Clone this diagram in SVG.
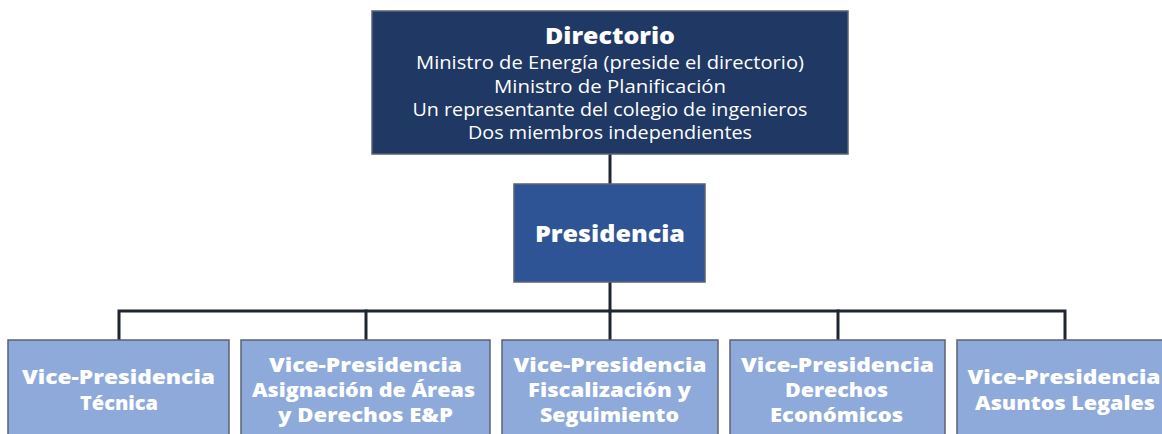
<svg xmlns="http://www.w3.org/2000/svg" width="1162" height="434" viewBox="0 0 1162 434">
<style>
.box{stroke:#5b6372;stroke-width:1.5}
.dir{fill:#203864}
.pres{fill:#2e5496}
.vp{fill:#8eaadb}
.conn{stroke:#1f2631;stroke-width:3;fill:none;stroke-linecap:square}
.t{font-family:"Open Sans","Liberation Sans",sans-serif;fill:#ffffff;text-anchor:middle}
.title{font-weight:800;font-size:22px}
.body{font-weight:400;font-size:17.5px}
.vpt{font-weight:800;font-size:20px}
</style>
<rect width="1162" height="434" fill="#ffffff"/>
<g id="connectors">
<line class="conn" x1="610" y1="154" x2="610" y2="184"/>
<line class="conn" x1="610" y1="282" x2="610" y2="311"/>
<polyline class="conn" points="119,340 119,311 1065,311 1065,340"/>
<line class="conn" x1="366" y1="311" x2="366" y2="340"/>
<line class="conn" x1="610" y1="311" x2="610" y2="340"/>
<line class="conn" x1="838" y1="311" x2="838" y2="340"/>
</g>
<g id="directorio">
<rect class="box dir" x="372" y="11" width="476" height="143"/>
<text class="t title" x="610" y="44" textLength="130" lengthAdjust="spacingAndGlyphs">Directorio</text>
<text class="t body" x="610" y="69" textLength="388" lengthAdjust="spacingAndGlyphs">Ministro de Energía (preside el directorio)</text>
<text class="t body" x="610" y="93" textLength="232" lengthAdjust="spacingAndGlyphs">Ministro de Planificación</text>
<text class="t body" x="610" y="116" textLength="395" lengthAdjust="spacingAndGlyphs">Un representante del colegio de ingenieros</text>
<text class="t body" x="610" y="139" textLength="284" lengthAdjust="spacingAndGlyphs">Dos miembros independientes</text>
</g>
<g id="presidencia">
<rect class="box pres" x="514" y="184" width="191" height="98"/>
<text class="t title" x="610" y="242" textLength="150" lengthAdjust="spacingAndGlyphs">Presidencia</text>
</g>
<g id="vp-tecnica">
<rect class="box vp" x="8" y="340" width="221" height="100"/>
<text class="t vpt" x="118.5" y="384" textLength="193" lengthAdjust="spacingAndGlyphs">Vice-Presidencia</text>
<text class="t vpt" x="119" y="410" textLength="78" lengthAdjust="spacingAndGlyphs">Técnica</text>
</g>
<g id="vp-asignacion">
<rect class="box vp" x="241" y="340" width="249" height="100"/>
<text class="t vpt" x="365.5" y="372" textLength="193" lengthAdjust="spacingAndGlyphs">Vice-Presidencia</text>
<text class="t vpt" x="363.5" y="397" textLength="223" lengthAdjust="spacingAndGlyphs">Asignación de Áreas</text>
<text class="t vpt" x="365.5" y="422" textLength="175" lengthAdjust="spacingAndGlyphs">y Derechos E&amp;P</text>
</g>
<g id="vp-fiscalizacion">
<rect class="box vp" x="502" y="340" width="216" height="100"/>
<text class="t vpt" x="610" y="372" textLength="193" lengthAdjust="spacingAndGlyphs">Vice-Presidencia</text>
<text class="t vpt" x="609.5" y="397" textLength="163" lengthAdjust="spacingAndGlyphs">Fiscalización y</text>
<text class="t vpt" x="609.5" y="422" textLength="139" lengthAdjust="spacingAndGlyphs">Seguimiento</text>
</g>
<g id="vp-derechos">
<rect class="box vp" x="730" y="340" width="215" height="100"/>
<text class="t vpt" x="837.5" y="372" textLength="193" lengthAdjust="spacingAndGlyphs">Vice-Presidencia</text>
<text class="t vpt" x="836.5" y="397" textLength="103" lengthAdjust="spacingAndGlyphs">Derechos</text>
<text class="t vpt" x="836.5" y="422" textLength="133" lengthAdjust="spacingAndGlyphs">Económicos</text>
</g>
<g id="vp-legales">
<rect class="box vp" x="957" y="340" width="215" height="100"/>
<text class="t vpt" x="1064" y="384" textLength="193" lengthAdjust="spacingAndGlyphs">Vice-Presidencia</text>
<text class="t vpt" x="1065" y="410" textLength="180" lengthAdjust="spacingAndGlyphs">Asuntos Legales</text>
</g>
</svg>
